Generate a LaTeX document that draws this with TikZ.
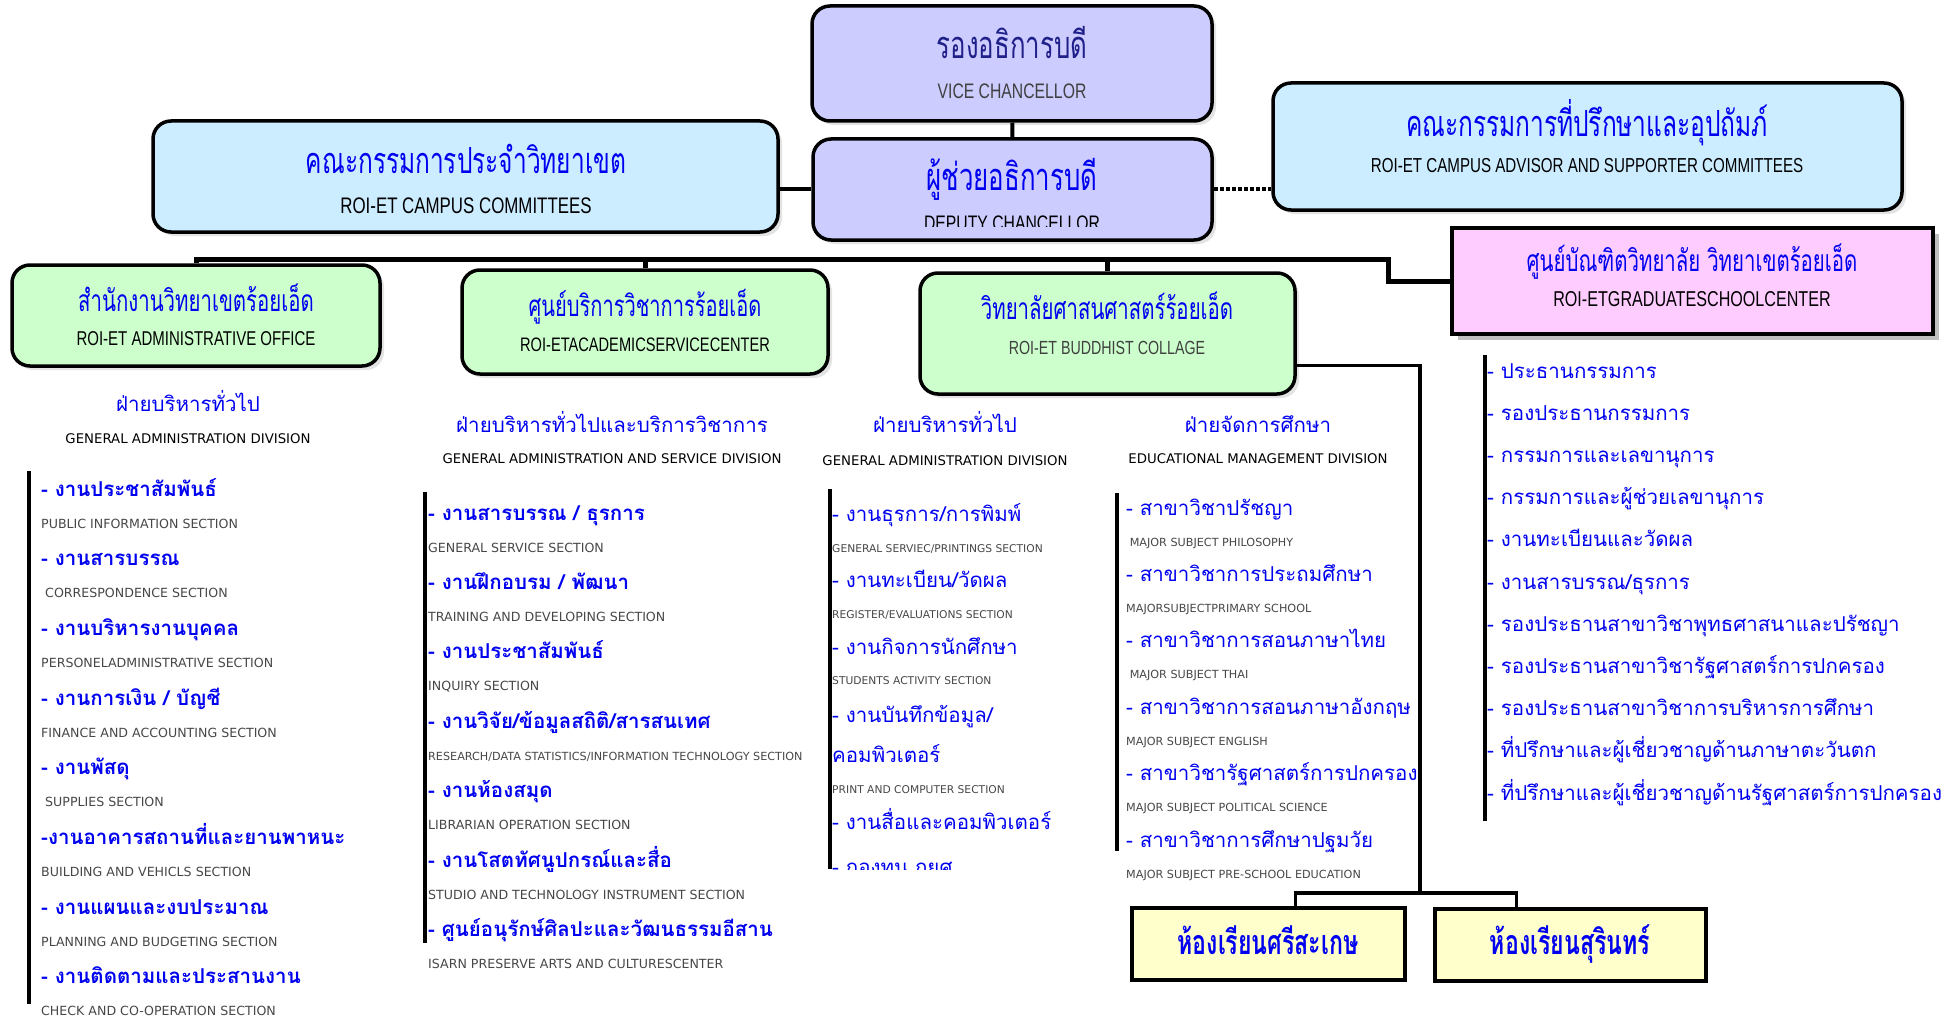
\documentclass[tikz,border=0pt]{standalone}
\usepackage{fontspec}
\usetikzlibrary{shadows}
\newfontfamily\thaifont[Script=Thai]{Loma}
\newfontfamily\thainarrow[Script=Thai,FakeStretch=0.68]{Loma}
\newfontfamily\engfont{DejaVu Sans}
\newfontfamily\engnarrow[FakeStretch=0.75]{Liberation Sans}
\definecolor{vcfill}{HTML}{CCCCFF}
\definecolor{cmfill}{HTML}{CCECFF}
\definecolor{offill}{HTML}{CCFFCC}
\definecolor{grfill}{HTML}{FFCCFF}
\definecolor{clfill}{HTML}{FFFFCC}
\definecolor{thblue}{HTML}{0000F0}
\definecolor{thnavy}{HTML}{20208A}
\newcommand\fs[1]{\fontsize{#1}{#1}\selectfont}
\begin{document}
\begin{tikzpicture}[x=1pt,y=-1pt,
  box/.style={draw,line width=3.5pt,rounded corners=18pt,inner sep=0pt,
    drop shadow={shadow xshift=4pt,shadow yshift=-4pt,fill=black!22,draw=none}},
  sqbox/.style={draw,line width=4pt,inner sep=0pt},
  boxth/.style={anchor=base,inner sep=0pt,text=thblue,font=\thainarrow\fs{36}},
  boxen/.style={anchor=base,inner sep=0pt,font=\engnarrow\fs{22.5}},
  divth/.style={anchor=base,inner sep=0pt,text=thblue,font=\thaifont\fs{20.5}},
  diven/.style={anchor=base,inner sep=0pt,font=\engfont\fs{13.3}},
  itemth/.style={anchor=base west,inner sep=0pt,text=thblue,font=\thaifont\bfseries\fs{20.5}},
  itemrg/.style={anchor=base west,inner sep=0pt,text=thblue,font=\thaifont\fs{20.5}},
  itemen/.style={anchor=base west,inner sep=0pt,text=black!72,font=\engfont\fs{12.6}},
  bar/.style={line width=3.5pt},
  link/.style={line width=4pt}]
\useasboundingbox (0,0) rectangle (1953,1019);

% top boxes
\node[box,fill=vcfill,minimum width=400pt,minimum height=115pt] (vice) at (1012,63.5) {};
\node[box,fill=vcfill,minimum width=399pt,minimum height=101pt] (deputy) at (1012.5,189.5) {};
\node[box,fill=cmfill,minimum width=625pt,minimum height=111pt] (campus) at (465.5,176.5) {};
\node[box,fill=cmfill,minimum width=629pt,minimum height=127pt] (advisor) at (1587.5,146.5) {};
\node[sqbox,fill=grfill,minimum width=481pt,minimum height=106pt,
  drop shadow={shadow xshift=6pt,shadow yshift=-6pt,fill=black!50,draw=none}] (grad) at (1692.5,281) {};

% campus units
\node[box,fill=offill,minimum width=368pt,minimum height=101pt] (office) at (196,315.5) {};
\node[box,fill=offill,minimum width=366pt,minimum height=104pt] (acad) at (645,322) {};
\node[box,fill=offill,minimum width=375pt,minimum height=121pt] (college) at (1107.5,333.5) {};
\node[sqbox,fill=clfill,minimum width=273pt,minimum height=72pt] (sisaket) at (1268.5,944) {};
\node[sqbox,fill=clfill,minimum width=271pt,minimum height=72pt] (surin) at (1570.5,945) {};

% box texts
\node[boxth,text=thnavy,font=\thainarrow\fs{38}] at (1012,59) {รองอธิการบดี};
\node[boxen,text=black!75,font=\engnarrow\fs{21}] at (1012,99) {VICE CHANCELLOR};
\node[boxth,font=\thainarrow\fs{38}] at (1012,190) {ผู้ช่วยอธิการบดี};
\begin{scope}
  \clip (813,139) rectangle (1212,226);
  \node[boxen,font=\engnarrow\fs{21}] at (1012,230) {DEPUTY CHANCELLOR};
\end{scope}
\node[boxth] at (466,174) {คณะกรรมการประจำวิทยาเขต};
\node[boxen] at (466,213) {ROI-ET CAMPUS COMMITTEES};
\node[boxth] at (1587,137) {คณะกรรมการที่ปรึกษาและอุปถัมภ์};
\node[boxen,font=\engnarrow\fs{20.2}] at (1587,173) {ROI-ET CAMPUS ADVISOR AND SUPPORTER COMMITTEES};
\node[boxth,font=\thainarrow\fs{30}] at (1692,271) {ศูนย์บัณฑิตวิทยาลัย วิทยาเขตร้อยเอ็ด};
\node[boxen,font=\engnarrow\fs{21.5}] at (1692,306) {ROI-ETGRADUATESCHOOLCENTER};
\node[boxth,font=\thainarrow\fs{30}] at (196,311) {สำนักงานวิทยาเขตร้อยเอ็ด};
\node[boxen,font=\engnarrow\fs{20}] at (196,345) {ROI-ET ADMINISTRATIVE OFFICE};
\node[boxth,font=\thainarrow\fs{29.5}] at (645,316) {ศูนย์บริการวิชาการร้อยเอ็ด};
\node[boxen,font=\engnarrow\fs{19.5}] at (645,351) {ROI-ETACADEMICSERVICECENTER};
\node[boxth,font=\thainarrow\fs{30}] at (1107,319) {วิทยาลัยศาสนศาสตร์ร้อยเอ็ด};
\node[boxen,font=\engnarrow\fs{19},text=black!75] at (1107,354) {ROI-ET BUDDHIST COLLAGE};
\node[boxth,font=\thainarrow\bfseries\fs{34}] at (1268,954) {ห้องเรียนศรีสะเกษ};
\node[boxth,font=\thainarrow\bfseries\fs{34}] at (1570,954) {ห้องเรียนสุรินทร์};

% connectors
\coordinate (bus) at (1388,259);
\coordinate (split) at (1420,893);
\draw[link] (vice) -- (deputy);
\draw[link] (deputy.west) -- (deputy.west -| campus.east);
\draw[link,dotted] (deputy.east) -- (deputy.east -| advisor.west);
\draw[link,line width=5pt] (office.north) |- (bus) |- (grad.west);
\draw[link,line width=5pt] (acad.north) -- (acad.north |- bus);
\draw[link,line width=5pt] (college.north) -- (college.north |- bus);
\draw[link,line width=3.5pt] ([yshift=-32pt]college.east) -| (split);
\draw[link,line width=3.5pt] ([xshift=27pt]sisaket.north) |- (split) -| ([xshift=-54pt]surin.north);

% division headings
\node[divth] at (188,411) {ฝ่ายบริหารทั่วไป};
\node[diven] at (188,443) {GENERAL ADMINISTRATION DIVISION};
\node[divth] at (612,432) {ฝ่ายบริหารทั่วไปและบริการวิชาการ};
\node[diven] at (612,463) {GENERAL ADMINISTRATION AND SERVICE DIVISION};
\node[divth] at (945,432) {ฝ่ายบริหารทั่วไป};
\node[diven] at (945,465) {GENERAL ADMINISTRATION DIVISION};
\node[divth] at (1258,432) {ฝ่ายจัดการศึกษา};
\node[diven] at (1258,463) {EDUCATIONAL MANAGEMENT DIVISION};

% column 1
\draw[bar] (29,471) -- (29,1004);
\foreach \th/\en [count=\i from 0] in {
  {- งานประชาสัมพันธ์}/{PUBLIC INFORMATION SECTION},
  {- งานสารบรรณ}/{\ CORRESPONDENCE SECTION},
  {- งานบริหารงานบุคคล}/{PERSONELADMINISTRATIVE SECTION},
  {- งานการเงิน / บัญชี}/{FINANCE AND ACCOUNTING SECTION},
  {- งานพัสดุ}/{\ SUPPLIES SECTION},
  {-งานอาคารสถานที่และยานพาหนะ}/{BUILDING AND VEHICLS SECTION},
  {- งานแผนและงบประมาณ}/{PLANNING AND BUDGETING SECTION},
  {- งานติดตามและประสานงาน}/{CHECK AND CO-OPERATION SECTION}}{
  \node[itemth] at (41,496+69.7*\i) {\th};
  \node[itemen] at (41,528+69.7*\i) {\en};
}

% column 2
\draw[bar] (425,492) -- (425,943);
\foreach \th/\en [count=\i from 0] in {
  {- งานสารบรรณ / ธุรการ}/{GENERAL SERVICE SECTION},
  {- งานฝึกอบรม / พัฒนา}/{TRAINING AND DEVELOPING SECTION},
  {- งานประชาสัมพันธ์}/{INQUIRY SECTION},
  {- งานวิจัย/ข้อมูลสถิติ/สารสนเทศ}/{\fs{11.2}RESEARCH/DATA STATISTICS/INFORMATION TECHNOLOGY SECTION},
  {- งานห้องสมุด}/{LIBRARIAN OPERATION SECTION},
  {- งานโสตทัศนูปกรณ์และสื่อ}/{STUDIO AND TECHNOLOGY INSTRUMENT SECTION},
  {- ศูนย์อนุรักษ์ศิลปะและวัฒนธรรมอีสาน}/{ISARN PRESERVE ARTS AND CULTURESCENTER}}{
  \node[itemth] at (428,520+69.4*\i) {\th};
  \node[itemen] at (428,552+69.4*\i) {\en};
}

% column 3
\draw[bar] (830,489) -- (830,869);
\node[itemrg] at (832,521) {- งานธุรการ/การพิมพ์};
\node[itemen,font=\engfont\fs{10.7}] at (832,552) {GENERAL SERVIEC/PRINTINGS SECTION};
\node[itemrg] at (832,587) {- งานทะเบียน/วัดผล};
\node[itemen,font=\engfont\fs{10.7}] at (832,618) {REGISTER/EVALUATIONS SECTION};
\node[itemrg] at (832,654) {- งานกิจการนักศึกษา};
\node[itemen,font=\engfont\fs{10.7}] at (832,684) {STUDENTS ACTIVITY SECTION};
\node[itemrg] at (832,722) {- งานบันทึกข้อมูล/};
\node[itemrg] at (832,762) {คอมพิวเตอร์};
\node[itemen,font=\engfont\fs{10.7}] at (832,793) {PRINT AND COMPUTER SECTION};
\node[itemrg] at (832,829) {- งานสื่อและคอมพิวเตอร์};
\begin{scope}
  \clip (830,840) rectangle (1100,869);
  \node[itemrg] at (832,874) {- กองทุน กยศ};
\end{scope}

% column 4
\draw[bar] (1117,493) -- (1117,851);
\foreach \th/\en [count=\i from 0] in {
  {- สาขาวิชาปรัชญา}/{\ MAJOR SUBJECT PHILOSOPHY},
  {- สาขาวิชาการประถมศึกษา}/{MAJORSUBJECTPRIMARY SCHOOL},
  {- สาขาวิชาการสอนภาษาไทย}/{\ MAJOR SUBJECT THAI},
  {- สาขาวิชาการสอนภาษาอังกฤษ}/{MAJOR SUBJECT ENGLISH},
  {- สาขาวิชารัฐศาสตร์การปกครอง}/{MAJOR SUBJECT POLITICAL SCIENCE},
  {- สาขาวิชาการศึกษาปฐมวัย}/{MAJOR SUBJECT PRE-SCHOOL EDUCATION}}{
  \node[itemrg] at (1126,515+66.4*\i) {\th};
  \node[itemen,font=\engfont\fs{11.2}] at (1126,546+66.4*\i) {\en};
}

% column 5
\draw[bar] (1485,355) -- (1485,821);
\foreach \th [count=\i from 0] in {
  - ประธานกรรมการ, - รองประธานกรรมการ, - กรรมการและเลขานุการ,
  - กรรมการและผู้ช่วยเลขานุการ, - งานทะเบียนและวัดผล, - งานสารบรรณ/ธุรการ,
  - รองประธานสาขาวิชาพุทธศาสนาและปรัชญา, - รองประธานสาขาวิชารัฐศาสตร์การปกครอง,
  - รองประธานสาขาวิชาการบริหารการศึกษา, - ที่ปรึกษาและผู้เชี่ยวชาญด้านภาษาตะวันตก,
  - ที่ปรึกษาและผู้เชี่ยวชาญด้านรัฐศาสตร์การปกครอง}{
  \node[itemrg] at (1487,378+42.2*\i) {\th};
}
\end{tikzpicture}
\end{document}
